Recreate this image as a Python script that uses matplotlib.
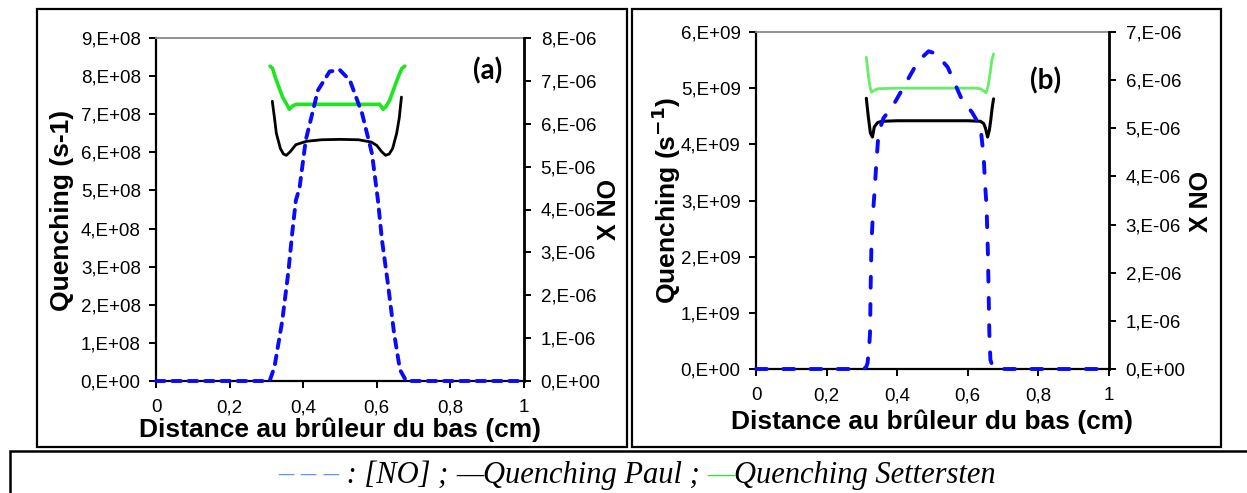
import matplotlib
matplotlib.use("Agg")
import matplotlib.pyplot as plt
import numpy as np
from matplotlib.patches import Rectangle

# ---------------- data ----------------
# Panel (a)
a_no_x = [0.0, 0.1, 0.2, 0.3, 0.31, 0.322, 0.343, 0.36, 0.37, 0.38, 0.39, 0.407, 0.44, 0.472, 0.5,
          0.527, 0.56, 0.587, 0.603, 0.614, 0.63, 0.647, 0.663, 0.68, 0.8, 0.9, 1.0]
a_no_y = [0.0, 0.0, 0.0, 0.0, 0.03, 0.33, 1.4, 2.57, 3.44, 4.21, 4.5, 5.62, 6.78, 7.22, 7.25,
          7.01, 6.24, 5.3, 4.22, 3.29, 2.28, 1.11, 0.26, 0.0, 0.0, 0.0, 0.0]  # x 1e-6

a_paul_x = [0.316, 0.322, 0.327, 0.338, 0.346, 0.354, 0.365, 0.38, 0.409, 0.45, 0.5, 0.55, 0.585,
            0.6, 0.613, 0.624, 0.634, 0.643, 0.654, 0.661, 0.667]
a_paul_y = [7.34, 6.9, 6.5, 6.1, 5.96, 5.92, 6.02, 6.2, 6.29, 6.33, 6.34, 6.33, 6.27,
            6.18, 6.02, 5.92, 5.96, 6.1, 6.5, 6.9, 7.45]  # x 1e8

a_sett_x = [0.31, 0.317, 0.324, 0.344, 0.36, 0.362, 0.372, 0.381, 0.45, 0.5, 0.55, 0.608,
            0.617, 0.625, 0.635, 0.657, 0.668, 0.676]
a_sett_y = [8.26, 8.2, 7.97, 7.45, 7.18, 7.13, 7.22, 7.26, 7.26, 7.26, 7.26, 7.26,
            7.13, 7.2, 7.37, 7.95, 8.2, 8.26]  # x 1e8

# Panel (b)
b_no_x = [0.0, 0.1, 0.2, 0.305, 0.312, 0.316, 0.321, 0.323, 0.325, 0.327, 0.331, 0.335, 0.341,
          0.347, 0.361, 0.389, 0.429, 0.46, 0.489, 0.51, 0.543, 0.58, 0.613, 0.636, 0.645,
          0.65, 0.653, 0.657, 0.659, 0.661, 0.664, 0.672, 0.68, 0.8, 0.9, 1.0]
b_no_y = [0.0, 0.0, 0.0, 0.0, 0.04, 0.12, 0.5, 0.75, 1.79, 2.6, 3.2, 3.6, 4.28,
          4.9, 5.21, 5.48, 6.0, 6.4, 6.6, 6.55, 6.27, 5.65, 5.32, 5.03, 4.4,
          3.72, 3.4, 2.4, 1.6, 0.75, 0.19, 0.02, 0.0, 0.0, 0.0, 0.0]  # x 1e-6

b_paul_x = [0.3125, 0.318, 0.324, 0.33, 0.335, 0.345, 0.357, 0.4, 0.5, 0.6, 0.636, 0.645,
            0.65, 0.656, 0.661, 0.665, 0.669, 0.673]
b_paul_y = [4.82, 4.5, 4.2, 4.13, 4.31, 4.39, 4.41, 4.42, 4.42, 4.42, 4.41, 4.37,
            4.29, 4.13, 4.25, 4.43, 4.65, 4.81]  # x 1e9

b_sett_x = [0.3125, 0.317, 0.322, 0.327, 0.335, 0.345, 0.4, 0.5, 0.62, 0.635, 0.645,
            0.652, 0.658, 0.664, 0.668, 0.673]
b_sett_y = [5.55, 5.3, 5.05, 4.93, 4.96, 4.99, 5.0, 5.0, 5.0, 4.99, 4.95,
            4.92, 5.05, 5.3, 5.5, 5.61]  # x 1e9

x_ticks = [0, 0.2, 0.4, 0.6, 0.8, 1.0]
x_ticklabels = ["0", "0,2", "0,4", "0,6", "0,8", "1"]
a_left_ticklabels = ["0,E+00"] + [f"{i},E+08" for i in range(1, 10)]
a_right_ticklabels = ["0,E+00"] + [f"{i},E-06" for i in range(1, 9)]
b_left_ticklabels = ["0,E+00"] + [f"{i},E+09" for i in range(1, 7)]
b_right_ticklabels = ["0,E+00"] + [f"{i},E-06" for i in range(1, 8)]

# ---------------- figure ----------------
W, H = 1247, 493
fig = plt.figure(figsize=(W / 100, H / 100), dpi=100)
plt.rcParams['font.family'] = ['Liberation Sans', 'DejaVu Sans']

def fx(px):
    return px / W

def fy(py):
    return 1 - py / H

BLUE = "#0a0aff"
BLACK = "#000000"
GREEN_A = "#1ee61e"
GREEN_B = "#66ee66"
TICK_FS = 13.5
LABEL_FS = 19

def style_axes(ax1, ax2, xlim, y1max, y1step, y1labels, y2max, y2labels):
    ax1.set_xlim(*xlim)
    ax1.set_ylim(0, y1max)
    ax2.set_ylim(0, y2max)
    ax1.set_xticks(x_ticks)
    ax1.set_xticklabels(x_ticklabels)
    ax1.set_yticks([i * y1step for i in range(len(y1labels))])
    ax1.set_yticklabels(y1labels)
    ax2.set_yticks([i * 1e-6 for i in range(len(y2labels))])
    ax2.set_yticklabels(y2labels)
    for ax in (ax1, ax2):
        ax.patch.set_visible(False)
        ax.spines['top'].set_visible(False)
    ax1.spines['top'].set_visible(True)
    ax1.spines['top'].set_color('#8a8a8a')
    ax1.spines['top'].set_linewidth(1.3)
    ax1.spines['right'].set_visible(False)
    ax2.spines['left'].set_visible(False)
    ax2.spines['bottom'].set_visible(False)
    ax1.spines['left'].set_linewidth(1.6)
    ax1.spines['bottom'].set_linewidth(1.6)
    ax2.spines['right'].set_linewidth(2.0)
    ax1.tick_params(axis='both', direction='out', length=5, width=1.4,
                    labelsize=TICK_FS, pad=6, colors='black')
    ax2.tick_params(axis='y', direction='out', length=5, width=1.4,
                    labelsize=TICK_FS, pad=7)
    ax1.tick_params(axis='x', pad=8)

# Panel frames
fig.patches.append(Rectangle((fx(37), fy(447)), fx(627) - fx(37), fy(9) - fy(447),
                             transform=fig.transFigure, fill=False, lw=1.6, ec='black'))
fig.patches.append(Rectangle((fx(632), fy(447)), fx(1221) - fx(632), fy(9) - fy(447),
                             transform=fig.transFigure, fill=False, lw=1.6, ec='black'))
fig.patches.append(Rectangle((fx(10), fy(500)), fx(1260) - fx(10), fy(451) - fy(500),
                             transform=fig.transFigure, fill=False, lw=1.8, ec='black',
                             clip_on=False))

# ---- panel (a)
axa = fig.add_axes([fx(156), fy(381), fx(524) - fx(156), fy(38) - fy(381)])
axa2 = axa.twinx()
axa.plot(a_paul_x, np.array(a_paul_y) * 1e8, color=BLACK, lw=2.0, solid_capstyle='round')
axa.plot(a_sett_x, np.array(a_sett_y) * 1e8, color=GREEN_A, lw=2.6, solid_capstyle='round')
axa2.plot(a_no_x, np.array(a_no_y) * 1e-6, color=BLUE, lw=2.8, dashes=(2.2, 2.0),
          dash_capstyle='round', clip_on=False)
style_axes(axa, axa2, (0, 1), 9e8, 1e8, a_left_ticklabels, 8e-6, a_right_ticklabels)
axa.text(0.9, 0.905, "(a)", transform=axa.transAxes, ha='center', va='center',
         fontsize=20, fontweight='bold', family=['Lato', 'DejaVu Sans'])

fig.text(fx(62), fy(210), "Quenching (s-1)", rotation=90, ha='center', va='center',
         fontsize=LABEL_FS, fontweight='bold')
fig.text(fx(340), fy(430), "Distance au brûleur du bas (cm)", ha='center', va='center',
         fontsize=LABEL_FS, fontweight='bold')
fig.text(fx(609), fy(210), "X NO", rotation=90, ha='center', va='center',
         fontsize=18, fontweight='bold')

# ---- panel (b)
axb = fig.add_axes([fx(756), fy(369), fx(1109) - fx(756), fy(32) - fy(369)])
axb2 = axb.twinx()
axb.plot(b_paul_x, np.array(b_paul_y) * 1e9, color=BLACK, lw=2.2, solid_capstyle='round')
axb.plot(b_sett_x, np.array(b_sett_y) * 1e9, color=GREEN_B, lw=2.0, solid_capstyle='round')
axb2.plot(b_no_x, np.array(b_no_y) * 1e-6, color=BLUE, lw=2.8, dashes=(2.8, 4.2),
          dash_capstyle='round', clip_on=False)
style_axes(axb, axb2, (0, 1), 6e9, 1e9, b_left_ticklabels, 7e-6, b_right_ticklabels)
axb.text(0.82, 0.855, "(b)", transform=axb.transAxes, ha='center', va='center',
         fontsize=20, fontweight='bold', family=['Lato', 'DejaVu Sans'])

fig.text(fx(666), fy(200), "Quenching (s$^{\\mathbf{-1}}$)", rotation=90, ha='center',
         va='center', fontsize=LABEL_FS, fontweight='bold')
fig.text(fx(932), fy(422), "Distance au brûleur du bas (cm)", ha='center', va='center',
         fontsize=LABEL_FS, fontweight='bold')
fig.text(fx(1201), fy(202), "X NO", rotation=90, ha='center', va='center',
         fontsize=18, fontweight='bold')

# ---- legend line (sequential text pieces)
pieces = [("– – –", "#5a9af5"), (" : [NO] ; ", "black"), ("—", "black"),
          ("Quenching Paul ; ", "black"), ("—", "#22ee22"), ("Quenching Settersten", "black")]
renderer = fig.canvas.get_renderer()
leg_fs = 22
texts = []
for s, c in pieces:
    t = fig.text(0, fy(475), s, color=c, fontsize=leg_fs, style='italic',
                 family=['Liberation Serif', 'DejaVu Serif'], ha='left', va='center')
    texts.append(t)
widths = [t.get_window_extent(renderer).width for t in texts]
total = sum(widths)
x0 = 637 - total / 2
for t, w in zip(texts, widths):
    t.set_x(fx(x0))
    x0 += w

fig.savefig("out.png", dpi=100)
